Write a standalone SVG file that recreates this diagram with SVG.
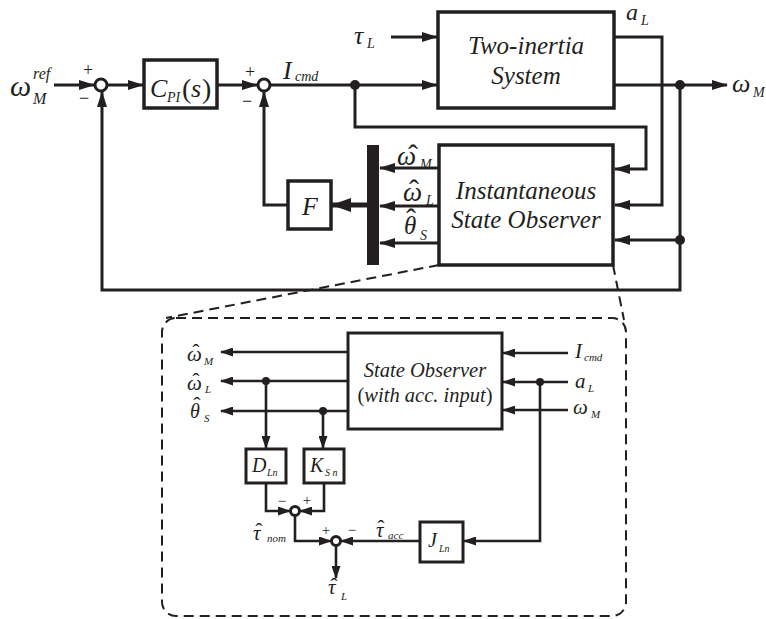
<svg xmlns="http://www.w3.org/2000/svg" width="766" height="619" viewBox="0 0 766 619">
<defs>
<style>
.ln{fill:none;stroke:#231f20;stroke-width:3}
.ln2{fill:none;stroke:#231f20;stroke-width:2.6}
.box{fill:#fff;stroke:#231f20;stroke-width:3.5}
.box2{fill:#fff;stroke:#231f20;stroke-width:3}
.sum{fill:#fff;stroke:#231f20;stroke-width:3}
.dot{fill:#231f20}
.dash{fill:none;stroke:#231f20;stroke-width:2;stroke-dasharray:10 6}
.t{font-family:"Liberation Serif","Times New Roman",serif;font-style:italic;fill:#231f20}
.u{font-family:"Liberation Serif","Times New Roman",serif;fill:#231f20}
.h{font-family:"Liberation Serif","Times New Roman",serif;fill:#231f20;text-anchor:middle}
</style>
<marker id="a" markerWidth="16" markerHeight="10" refX="15" refY="5" orient="auto" markerUnits="userSpaceOnUse"><path d="M0,0 L16,5 L0,10 z" fill="#231f20"/></marker>
<marker id="ab" markerWidth="13" markerHeight="9" refX="12" refY="4.5" orient="auto" markerUnits="userSpaceOnUse"><path d="M0,0 L13,4.5 L0,9 z" fill="#231f20"/></marker>
<marker id="ath" markerWidth="20" markerHeight="14" refX="19" refY="7" orient="auto" markerUnits="userSpaceOnUse"><path d="M0,0 L20,7 L0,14 z" fill="#231f20"/></marker>
</defs>

<g id="connectors">
<path class="ln" d="M54,85 H94" marker-end="url(#a)"/>
<path class="ln" d="M107,85 H143" marker-end="url(#a)"/>
<path class="ln" d="M217,85 H257" marker-end="url(#a)"/>
<path class="ln" d="M270,85 H437" marker-end="url(#a)"/>
<path class="ln" d="M391,37 H437" marker-end="url(#a)"/>
<path class="ln" d="M614,85 H727" marker-end="url(#a)"/>
<path class="ln" d="M680,85 V290 H102 V92" marker-end="url(#a)"/>
<path class="ln" d="M288,205 H264 V92" marker-end="url(#a)"/>
<path class="ln" d="M355,85 V127 H646 V169 H615" marker-end="url(#a)"/>
<path class="ln" d="M614,37 H662 V205 H615" marker-end="url(#a)"/>
<path class="ln" d="M680,240 H615" marker-end="url(#a)"/>
<path class="ln" d="M439,168 H380" marker-end="url(#a)"/>
<path class="ln" d="M439,206 H380" marker-end="url(#a)"/>
<path class="ln" d="M439,243 H380" marker-end="url(#a)"/>
<path fill="none" stroke="#231f20" stroke-width="5" d="M367,205 H332" marker-end="url(#ath)"/>
<circle class="dot" cx="355" cy="85" r="5"/>
<circle class="dot" cx="680" cy="85" r="5"/>
<circle class="dot" cx="680" cy="240" r="5"/>

<path class="dash" d="M439,265 L166,318"/>
<path class="dash" d="M613,265 L624,320"/>

<path class="ln2" d="M348,352 H221" marker-end="url(#ab)"/>
<path class="ln2" d="M348,381 H221" marker-end="url(#ab)"/>
<path class="ln2" d="M348,411 H221" marker-end="url(#ab)"/>
<path class="ln2" d="M266,381 V448" marker-end="url(#ab)"/>
<path class="ln2" d="M323,411 V448" marker-end="url(#ab)"/>
<path class="ln2" d="M266,483 V511 H290" marker-end="url(#ab)"/>
<path class="ln2" d="M324,483 V511 H300" marker-end="url(#ab)"/>
<path class="ln2" d="M295,515 V541 H331" marker-end="url(#ab)"/>
<path class="ln2" d="M420,541 H341" marker-end="url(#ab)"/>
<path class="ln2" d="M336,545.5 V578" marker-end="url(#ab)"/>
<path class="ln2" d="M568,353 H503" marker-end="url(#ab)"/>
<path class="ln2" d="M568,382 H503" marker-end="url(#ab)"/>
<path class="ln2" d="M568,410 H503" marker-end="url(#ab)"/>
<path class="ln2" d="M540,382 V541 H464" marker-end="url(#ab)"/>
<circle class="dot" cx="266" cy="381" r="4"/>
<circle class="dot" cx="323" cy="411" r="4"/>
<circle class="dot" cx="540" cy="382" r="4"/>
</g>

<g id="detail-frame">
<rect class="dash" x="162" y="318" width="464" height="298" rx="14"/>
</g>

<g id="ref-input">
<text class="t" x="10" y="96" font-size="30">ω</text>
<text class="t" x="33" y="79" font-size="16">ref</text>
<text class="t" x="33" y="104" font-size="16">M</text>
</g>

<g id="sum1">
<circle class="sum" cx="101" cy="85" r="6"/>
<text class="u" x="88" y="76" font-size="18" text-anchor="middle">+</text>
<text class="u" x="84" y="104" font-size="18" text-anchor="middle">−</text>
</g>

<g id="cpi">
<rect class="box" x="144" y="60" width="73" height="48"/>
<text class="t" x="150" y="97" font-size="26">C</text>
<text class="t" x="167" y="102" font-size="14">PI</text>
<text class="u" x="182" y="98" font-size="28">(</text>
<text class="t" x="191" y="97" font-size="26">s</text>
<text class="u" x="202" y="98" font-size="28">)</text>
</g>

<g id="sum2">
<circle class="sum" cx="264" cy="85" r="6"/>
<text class="u" x="250" y="78" font-size="18" text-anchor="middle">+</text>
<text class="u" x="247" y="107" font-size="18" text-anchor="middle">−</text>
<text class="t" x="283" y="79" font-size="26">I</text>
<text class="t" x="295" y="81" font-size="14">cmd</text>
</g>

<g id="plant">
<rect class="box" x="438" y="12" width="176" height="96"/>
<text class="t" x="526" y="54" font-size="25" text-anchor="middle">Two-inertia</text>
<text class="t" x="526" y="84" font-size="25" text-anchor="middle">System</text>
<text class="t" x="354" y="44" font-size="26">τ</text>
<text class="t" x="367" y="48" font-size="14">L</text>
<text class="t" x="626" y="20" font-size="24">a</text>
<text class="t" x="641" y="25" font-size="14">L</text>
<text class="t" x="732" y="92" font-size="26">ω</text>
<text class="t" x="753" y="97" font-size="14">M</text>
</g>

<g id="observer">
<rect class="box" x="439" y="145" width="174" height="120"/>
<text class="t" x="526" y="199" font-size="25" text-anchor="middle">Instantaneous</text>
<text class="t" x="526" y="228" font-size="25" text-anchor="middle">State Observer</text>
</g>

<g id="mux">
<rect x="367" y="145" width="12" height="120" fill="#231f20"/>
<text class="t" x="397" y="165" font-size="27">ω</text>
<text class="h" x="413" y="165" font-size="30">ˆ</text>
<text class="t" x="420" y="169" font-size="14">M</text>
<text class="t" x="403" y="201" font-size="27">ω</text>
<text class="h" x="414" y="200" font-size="30">ˆ</text>
<text class="t" x="426" y="205" font-size="14">L</text>
<text class="t" x="404" y="234" font-size="25">θ</text>
<text class="h" x="411" y="229" font-size="30">ˆ</text>
<text class="t" x="420" y="240" font-size="14">S</text>
</g>

<g id="gainF">
<rect class="box" x="288" y="181" width="43" height="48"/>
<text class="t" x="310" y="215" font-size="26" text-anchor="middle">F</text>
</g>

<g id="state-observer">
<rect class="box2" x="348" y="333" width="154" height="96"/>
<text class="t" x="425" y="377" font-size="20.5" text-anchor="middle">State Observer</text>
<text class="u" x="425" y="402" font-size="20.5" text-anchor="middle">(<tspan font-style="italic">with acc. input</tspan>)</text>
<text class="t" x="187" y="361" font-size="21">ω</text>
<text class="h" x="196" y="359" font-size="22">ˆ</text>
<text class="t" x="204" y="365" font-size="11">M</text>
<text class="t" x="187" y="390" font-size="21">ω</text>
<text class="h" x="196" y="388" font-size="22">ˆ</text>
<text class="t" x="205" y="393" font-size="11">L</text>
<text class="t" x="190" y="418" font-size="20">θ</text>
<text class="h" x="197" y="412" font-size="22">ˆ</text>
<text class="t" x="204" y="422" font-size="11">S</text>
<text class="t" x="575" y="358" font-size="21">I</text>
<text class="t" x="584" y="361" font-size="11">cmd</text>
<text class="t" x="575" y="388" font-size="21">a</text>
<text class="t" x="588" y="392" font-size="11">L</text>
<text class="t" x="573" y="414" font-size="21">ω</text>
<text class="t" x="591" y="418" font-size="11">M</text>
</g>

<g id="DLn">
<rect class="box2" x="246" y="449" width="40" height="34"/>
<text class="t" x="252" y="472" font-size="20">D</text>
<text class="t" x="267" y="476" font-size="10">Ln</text>
</g>

<g id="KSn">
<rect class="box2" x="304" y="449" width="40" height="34"/>
<text class="t" x="310" y="472" font-size="20">K</text>
<text class="t" x="325" y="476" font-size="10">S n</text>
</g>

<g id="sum3">
<circle class="sum" cx="295" cy="511" r="4.5" stroke-width="2.6"/>
<text class="u" x="282" y="506" font-size="15" text-anchor="middle">−</text>
<text class="u" x="307" y="505" font-size="15" text-anchor="middle">+</text>
<text class="t" x="253" y="540" font-size="21">τ</text>
<text class="h" x="259" y="538" font-size="22">ˆ</text>
<text class="t" x="267" y="542" font-size="11">nom</text>
</g>

<g id="sum4">
<circle class="sum" cx="336" cy="541" r="4.5" stroke-width="2.6"/>
<text class="u" x="326" y="535" font-size="15" text-anchor="middle">+</text>
<text class="u" x="352" y="535" font-size="15" text-anchor="middle">−</text>
<text class="t" x="376" y="537" font-size="21">τ</text>
<text class="h" x="381" y="535" font-size="22">ˆ</text>
<text class="t" x="388" y="539" font-size="11">acc</text>
<text class="t" x="328" y="594" font-size="21">τ</text>
<text class="h" x="334" y="593" font-size="22">ˆ</text>
<text class="t" x="341" y="600" font-size="11">L</text>
</g>

<g id="JLn">
<rect class="box2" x="420" y="522" width="43" height="40"/>
<text class="t" x="428" y="547" font-size="20">J</text>
<text class="t" x="439" y="552" font-size="10">Ln</text>
</g>
</svg>
